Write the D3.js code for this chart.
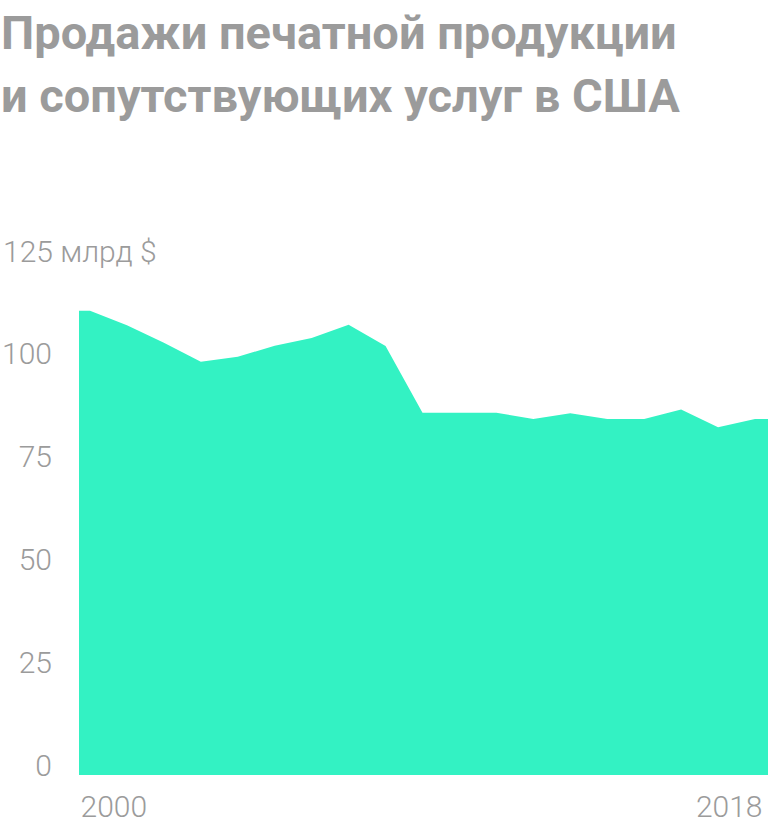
<!DOCTYPE html>
<html lang="ru">
<head>
    <meta charset="UTF-8">
    <title>Продажи печатной продукции</title>
    <script src="https://d3js.org/d3.v7.min.js"></script>
    <style>
        body{
            margin: 0;
            background: #fff;
        }
        .title{
            font-family: Roboto, sans-serif;
            font-weight: 700;
            font-size: 47px;
            fill: #9b9b9b;
        }
        .axis text{
            font-family: Roboto, sans-serif;
            font-weight: 300;
            font-size: 30px;
            fill: #9b9b9b;
        }
    </style>
</head>
<body>
    <script>
        // размеры
        var w = 768;
        var h = 824;

        // данные (млрд $)
        var years = [2000, 2001, 2002, 2003, 2004, 2005, 2006, 2007, 2008, 2009,
                     2010, 2011, 2012, 2013, 2014, 2015, 2016, 2017, 2018];
        var sales = [112.9, 109.4, 105.1, 100.5, 101.7, 104.4, 106.3, 109.5, 104.3, 88.1,
                     88.1, 88.1, 86.6, 88.0, 86.6, 86.6, 88.9, 84.6, 86.6];
        var yTicks = [0, 25, 50, 75, 100, 125];
        var xTicks = [2000, 2018];
        var titleLines = ["Продажи печатной продукции", "и сопутствующих услуг в США"];

        var svg = d3.select("body")
            .append("svg")
            .attr("width", w)
            .attr("height", h);

        // заголовок
        svg.selectAll("text.title")
            .data(titleLines)
            .enter()
            .append("text")
            .classed("title", true)
            .attr("x", 1)
            .attr("y", (d, i) => 49 + i * 63)
            .text(d => d);

        var xScale = d3.scaleLinear()
            .domain([2000, 2018])
            .range([90, 755]);

        var yScale = d3.scaleLinear()
            .domain([0, 125])
            .range([775, 261]);

        // область тянется до краёв графика
        var leftEdge = 79, rightEdge = 768;
        var dataSet = years.map((y, i) => ({year: y, value: sales[i]}));
        var areaData = [{year: xScale.invert(leftEdge), value: sales[0]}]
            .concat(dataSet)
            .concat([{year: xScale.invert(rightEdge), value: sales[sales.length - 1]}]);

        var area = d3.area()
            .x(d => xScale(d.year))
            .y0(yScale(0))
            .y1(d => yScale(d.value));

        svg.append("path")
            .datum(areaData)
            .attr("d", area)
            .attr("fill", "#33f2c3");

        // ось Y
        var yAxis = d3.axisLeft(yScale)
            .tickValues(yTicks)
            .tickSize(0)
            .tickFormat(d => d === 125 ? "125 млрд $" : d);

        var gy = svg.append("g")
            .classed("axis", true)
            .attr("transform", "translate(52,0)")
            .call(yAxis);
        gy.select(".domain").remove();
        gy.selectAll("text")
            .attr("x", 0)
            .attr("dy", 0)
            .attr("text-anchor", "end");
        gy.selectAll(".tick")
            .filter(d => d === 125)
            .select("text")
            .attr("x", -49)
            .attr("text-anchor", "start");

        // ось X
        var xAxis = d3.axisBottom(xScale)
            .tickValues(xTicks)
            .tickSize(0)
            .tickFormat(d3.format("d"));

        var gx = svg.append("g")
            .classed("axis", true)
            .attr("transform", "translate(0,817)")
            .call(xAxis);
        gx.select(".domain").remove();
        gx.selectAll("text")
            .attr("y", 0)
            .attr("dy", 0)
            .attr("text-anchor", d => d === 2000 ? "start" : "end")
            .attr("x", d => d === 2000 ? leftEdge - xScale(d) + 1 : 762 - xScale(d));
    </script>
</body>
</html>
